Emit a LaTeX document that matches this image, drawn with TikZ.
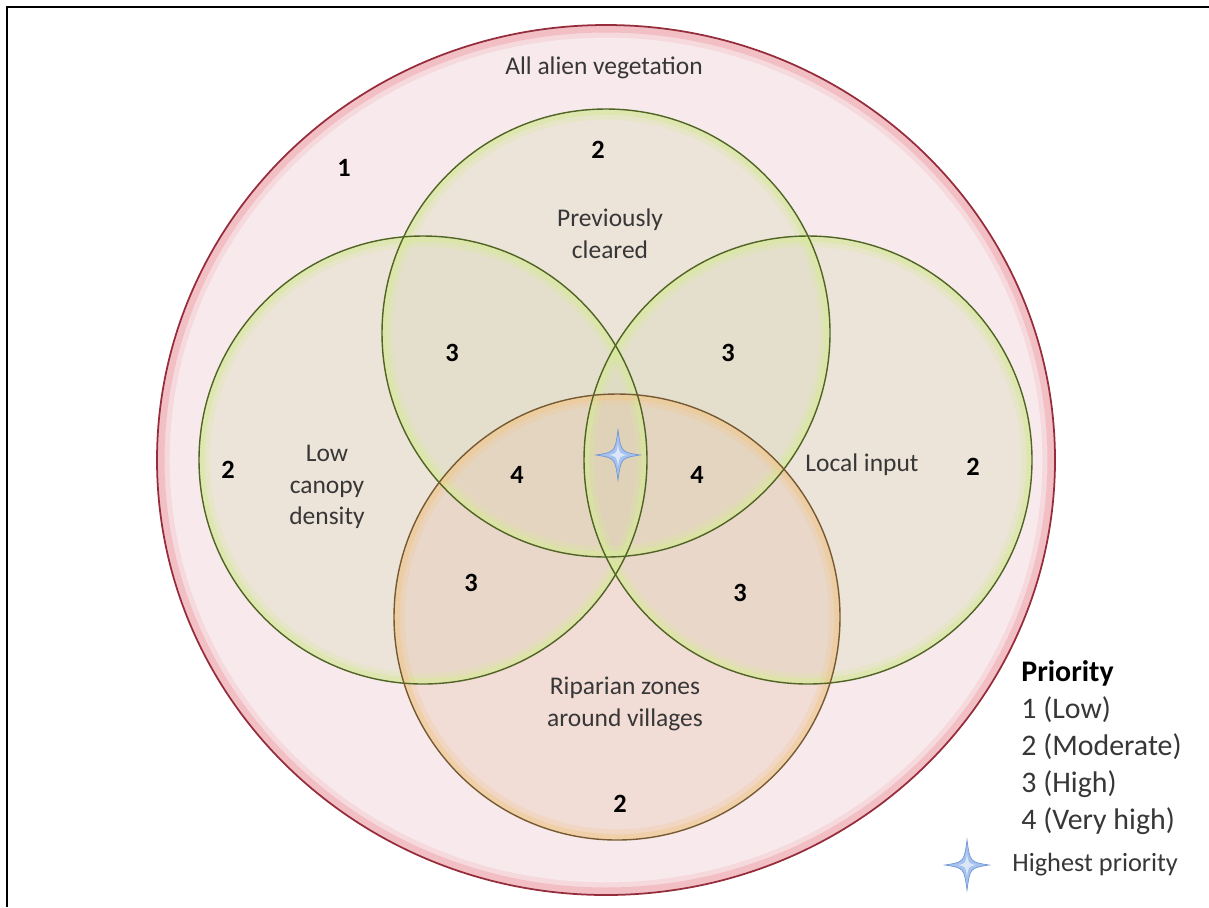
\documentclass[tikz,border=0pt]{standalone}
\usepackage{fontspec}
\setmainfont{Carlito}
\usetikzlibrary{positioning}

\definecolor{bgpink}{RGB}{248,234,236}
\definecolor{ringred}{RGB}{150,45,60}
\definecolor{ringpink}{RGB}{238,150,160}
\definecolor{tanfill}{RGB}{211,214,176}
\definecolor{peachfill}{RGB}{228,190,165}
\definecolor{olive}{RGB}{80,100,35}
\definecolor{leaf}{RGB}{215,235,150}
\definecolor{rimbrown}{RGB}{120,90,50}
\definecolor{rimpeach}{RGB}{240,200,140}
\definecolor{txtgray}{RGB}{55,55,55}
\definecolor{starblue}{RGB}{165,195,238}
\definecolor{starline}{RGB}{115,150,210}

\begin{document}
\begin{tikzpicture}[x=0.02cm,y=-0.02cm,node distance=7.4mm,
  sparkle/.pic={
    \fill[starblue,draw=starline,line width=0.4pt] (0,-25) .. controls (3,-3) .. (22,0) .. controls (3,3) .. (0,25)
      .. controls (-3,3) .. (-22,0) .. controls (-3,-3) .. (0,-25) -- cycle;
    \fill[white,opacity=0.6] (0,-11) .. controls (1.5,-1.5) .. (9,0) .. controls (1.5,1.5) .. (0,11)
      .. controls (-1.5,1.5) .. (-9,0) .. controls (-1.5,-1.5) .. (0,-11) -- cycle;
  }]
  \tikzstyle{lbl}=[align=center,text=txtgray,font=\fontsize{14.5}{18}\selectfont]
  \tikzstyle{num}=[text=black,font=\fontsize{15}{18}\selectfont\bfseries]
  \tikzstyle{key}=[anchor=west,inner sep=0pt,text=txtgray,font=\fontsize{17}{20}\selectfont]
  \tikzstyle{setfill}=[fill=tanfill,fill opacity=0.3]
  \tikzstyle{setglow}=[draw=leaf,line width=3pt,draw opacity=0.6]
  \tikzstyle{setedge}=[draw=olive,line width=0.8pt]
  \useasboundingbox (0,0) rectangle (1209,907);
  % frame
  \draw[line width=1.3pt] (7,907) -- (7,7) -- (1209,7);
  % All alien vegetation
  \coordinate (cAll) at (606,460);
  \fill[bgpink] (cAll) ellipse [x radius=449, y radius=435];
  \draw[ringpink,line width=4pt,opacity=0.5] (cAll) ellipse [x radius=445, y radius=431];
  \draw[ringpink,line width=3pt,opacity=0.2] (cAll) ellipse [x radius=439, y radius=425];
  \draw[ringred,line width=1pt] (cAll) ellipse [x radius=449, y radius=435];
  % the four criteria
  \coordinate (cTop) at (606,333);
  \coordinate (cLeft) at (423,460);
  \coordinate (cRight) at (808,460);
  \coordinate (cBot) at (617,617);
  \foreach \c in {cTop,cLeft,cRight}
    \fill[setfill] (\c) circle [radius=224];
  \fill[setfill,fill=peachfill] (cBot) circle [radius=223];
  \foreach \c in {cTop,cLeft,cRight}{
    \draw[setglow] (\c) circle [radius=221];
    \draw[setglow,draw opacity=0.25] (\c) circle [radius=216];
  }
  \draw[setglow,draw=rimpeach] (cBot) circle [radius=220];
  \draw[setglow,draw=rimpeach,draw opacity=0.25] (cBot) circle [radius=215];
  \foreach \c in {cTop,cLeft,cRight}
    \draw[setedge] (\c) circle [radius=224];
  \draw[setedge,draw=rimbrown] (cBot) circle [radius=223];
  % set labels
  \node[lbl] (all) at (604,68) {All alien vegetation};
  \node[lbl] (prev) at (610,234) {Previously\\cleared};
  \node[lbl] (low) at (327,487) {Low\\canopy\\density};
  \node[lbl] (local) at (862,465) {Local input};
  \node[lbl] (ripa) at (625,704) {Riparian zones\\around villages};
  % priorities
  \node[num] (n1) at (344,168) {1};
  \node[num] (n2t) at (598,150) {2};
  \node[num] (n2l) at (228,470) {2};
  \node[num] (n2r) at (973,467) {2};
  \node[num] (n2b) at (620,804) {2};
  \node[num] (n3tl) at (452,353) {3};
  \node[num] (n3tr) at (728,353) {3};
  \node[num] (n3bl) at (471,583) {3};
  \node[num] (n3br) at (740,593) {3};
  \node[num] (n4l) at (517,475) {4};
  \node[num] (n4r) at (697,475) {4};
  \pic at (618,455) {sparkle};
  % legend
  \node[key,font=\fontsize{17}{20}\selectfont\bfseries,text=black] (prio) at (1021,673) {Priority};
  \node[key,below=of prio.west,anchor=west] (k1) {1 (Low)};
  \node[key,below=of k1.west,anchor=west] (k2) {2 (Moderate)};
  \node[key,below=of k2.west,anchor=west] (k3) {3 (High)};
  \node[key,below=of k3.west,anchor=west] (k4) {4 (Very high)};
  \node[key,font=\fontsize{15}{18}\selectfont] (hp) at (1012,865) {Highest priority};
  \pic at (967,865) {sparkle};
\end{tikzpicture}
\end{document}
